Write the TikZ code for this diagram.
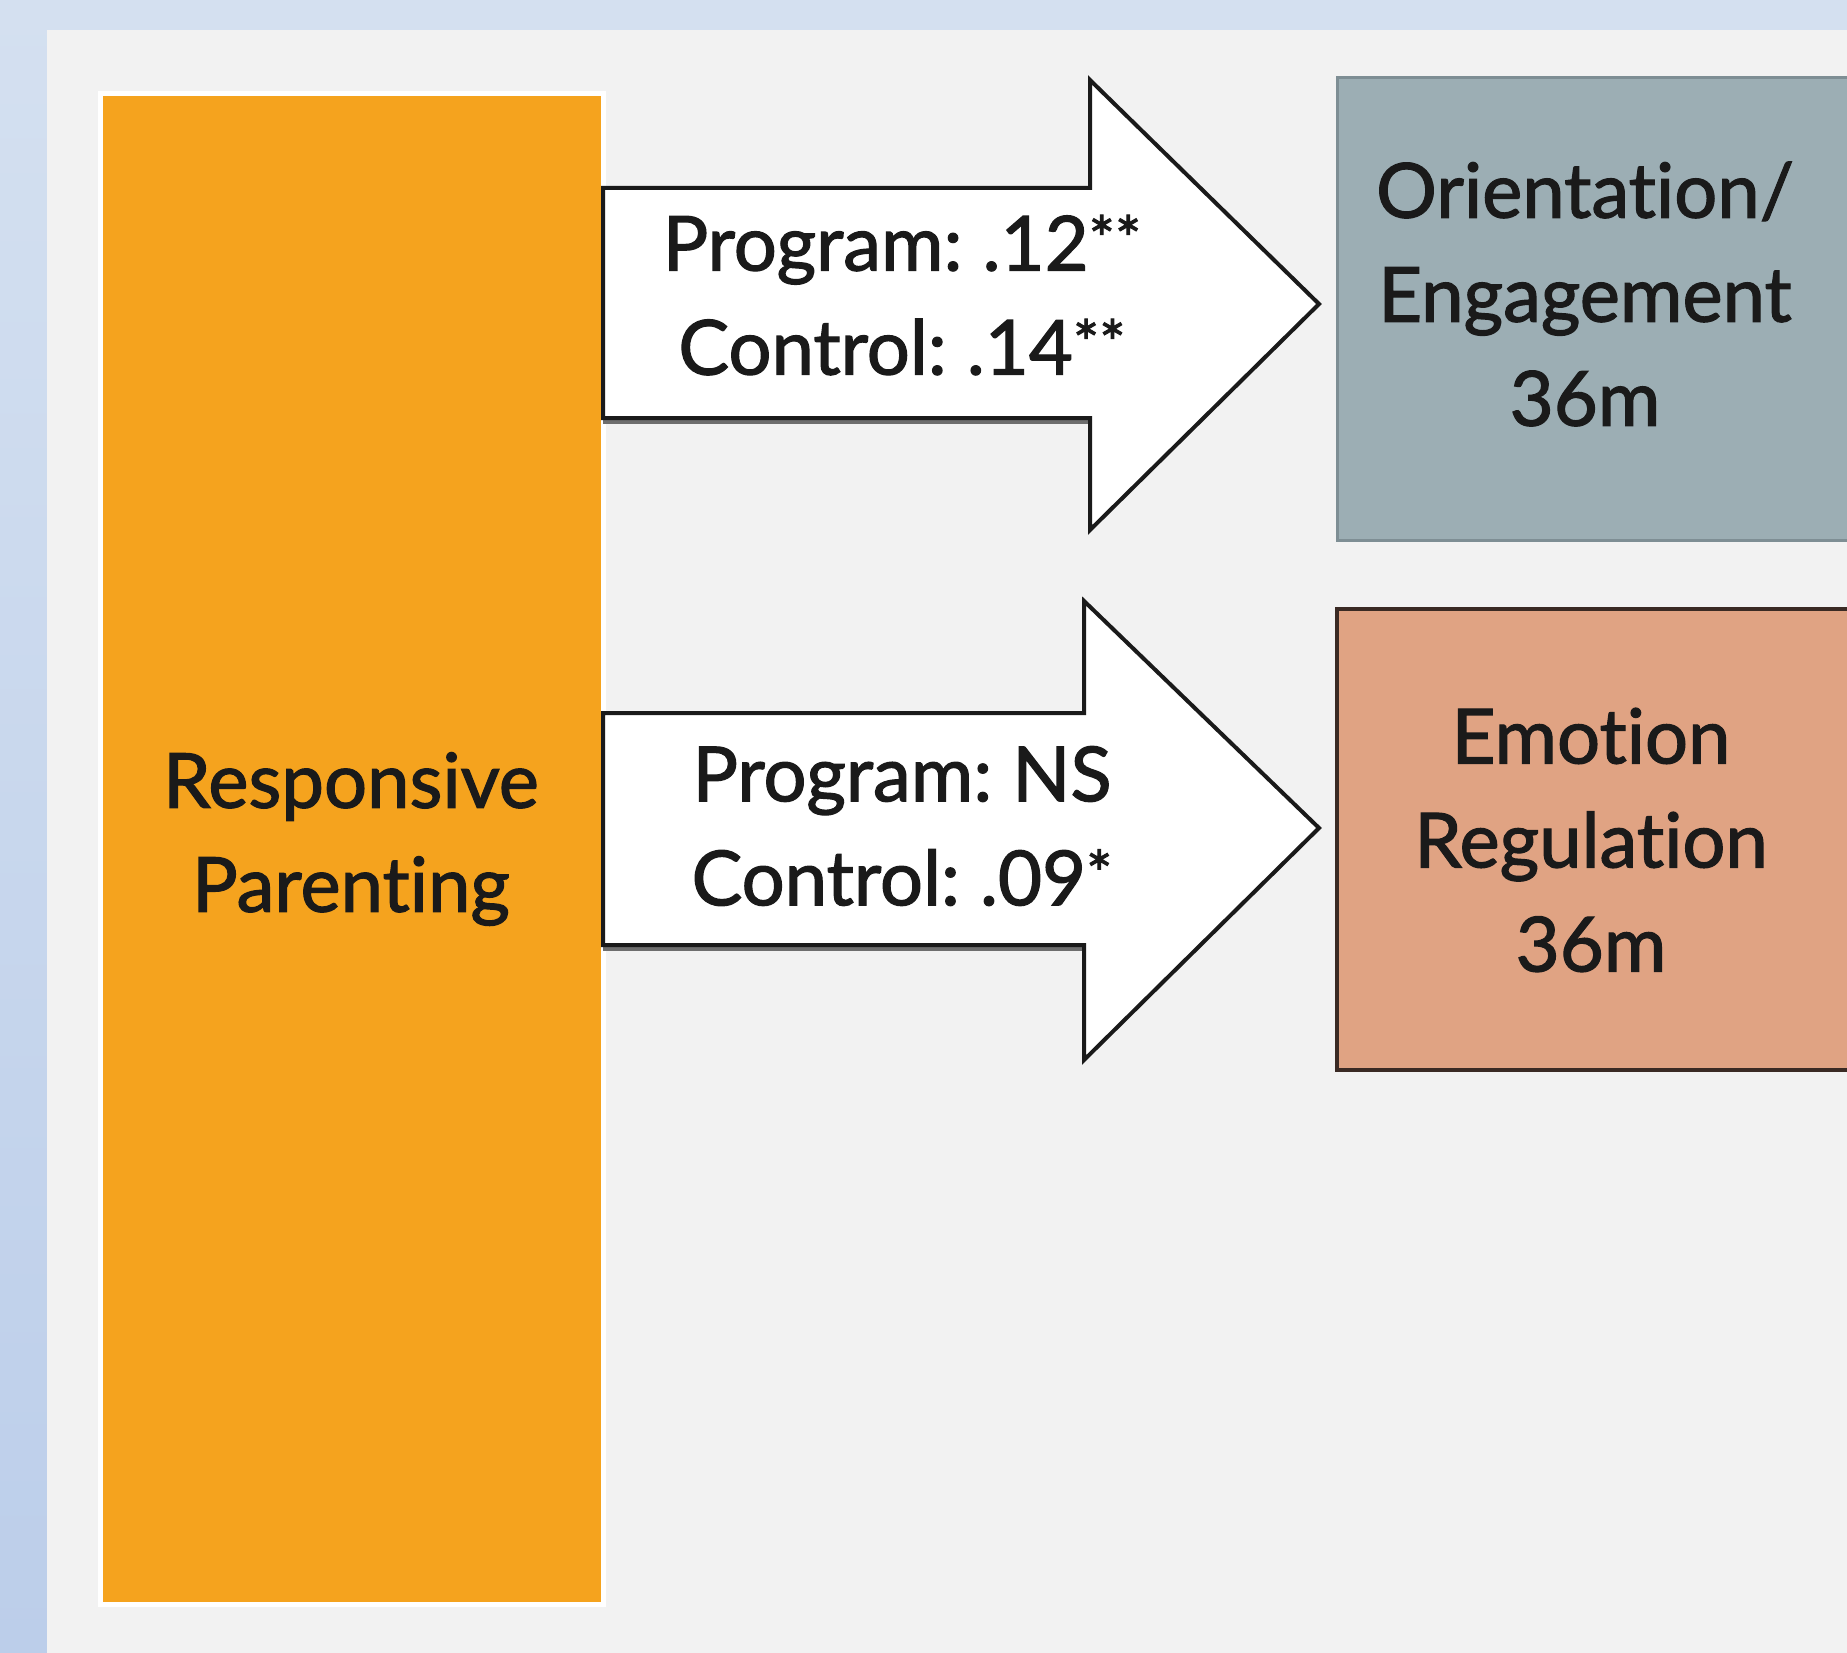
\documentclass[tikz,border=0pt]{standalone}
\usepackage{fontspec}
\setmainfont{Lato}[Ligatures=NoCommon, WordSpace=0.7]
\newfontfamily\medfont{Lato}[Ligatures=NoCommon, WordSpace=0.7, FakeBold=1.6]
\definecolor{bgtop}{HTML}{D4E0F0}
\definecolor{bgbot}{HTML}{BCCEEA}
\definecolor{panel}{HTML}{F2F2F2}
\definecolor{orangebox}{HTML}{F5A31E}
\definecolor{graybox}{HTML}{9CAEB4}
\definecolor{grayedge}{HTML}{7E8E94}
\definecolor{salmon}{HTML}{E0A383}
\definecolor{salmonedge}{HTML}{3A2A24}
\definecolor{ink}{HTML}{1A1A1A}
\definecolor{shadow}{HTML}{6E6E6E}
\tikzset{
  bigtext/.style={font=\medfont\fontsize{76}{104}\selectfont, text=ink, align=center, inner sep=0pt},
  blockarrow/.style={draw=ink, line width=4pt, fill=white, line join=miter},
  arrowshadow/.style={draw=shadow, line width=8pt, line join=miter},
}
\newcommand{\stars}[1]{\raisebox{0.12em}{\fontsize{62}{62}\selectfont#1}}
\begin{document}
\begin{tikzpicture}[x=1pt,y=-1pt]
\useasboundingbox (0,0) rectangle (1847,1653);
\shade[top color=bgtop, bottom color=bgbot] (0,0) rectangle (1847,1653);
\fill[panel] (47,30) rectangle (1847,1653);
% orange source box
\draw[white, line width=5pt, fill=orangebox] (100,94) rectangle (603,1604);
\node[bigtext] (src) at (351,839) {Responsive\\Parenting};
% target boxes
\draw[grayedge, line width=3pt, fill=graybox] (1337,78) rectangle (1860,540);
\node[bigtext] (tgt1) at (1585,294) {Orientation/\\Engagement\\36m};
\draw[salmonedge, line width=4pt, fill=salmon] (1337,609) rectangle (1860,1070);
\node[bigtext] (tgt2) at (1591,840) {Emotion\\Regulation\\36m};
% block arrows
\draw[arrowshadow] (603,191) -- (1090,191);
\draw[arrowshadow] (603,420) -- (1090,420);
\draw[arrowshadow] (603,947) -- (1084,947);
\draw[blockarrow] (603,188) -- (1090,188) -- (1090,80) -- (1319,304) -- (1090,530) -- (1090,418) -- (603,418) -- cycle;
\node[bigtext] (lab1) at (902,295) {Program: .12\stars{**}\\Control: .14\stars{**}};
\draw[blockarrow] (603,713) -- (1084,713) -- (1084,601) -- (1319,828) -- (1084,1060) -- (1084,945) -- (603,945) -- cycle;
\node[bigtext] (lab2) at (902,826) {Program: NS\\Control: .09\stars{*}};
\end{tikzpicture}
\end{document}
